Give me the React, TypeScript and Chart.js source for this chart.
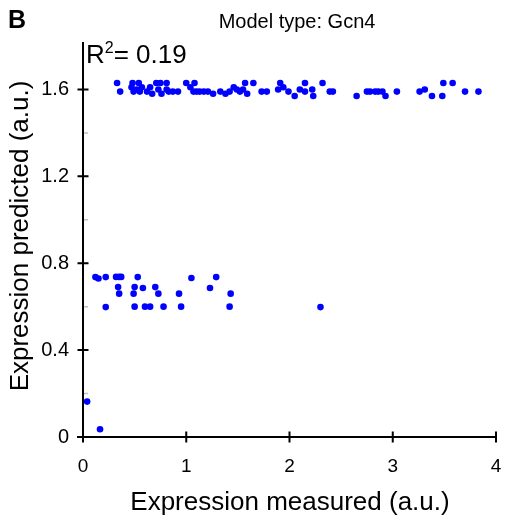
import React, { useEffect, useRef } from "react";
import { Chart, registerables } from "chart.js";

Chart.register(...registerables);

const upperX = [0.33,0.36,0.48,0.54,0.47,0.49,0.52,0.55,0.57,0.62,0.65,0.67,0.71,0.75,0.73,0.76,0.81,0.81,0.83,0.87,0.92,1.00,1.08,1.04,1.07,1.10,1.13,1.17,1.21,1.26,1.33,1.38,1.42,1.46,1.49,1.52,1.57,1.65,1.55,1.59,1.73,1.78,1.91,1.94,1.89,1.99,2.05,2.10,2.15,2.15,2.22,2.23,2.32,2.39,2.42,2.65,2.75,2.78,2.83,2.86,2.90,2.93,3.04,3.26,3.31,3.38,3.49,3.48,3.58,3.70,3.83];
const upperY = [1.63,1.59,1.63,1.63,1.61,1.59,1.60,1.59,1.61,1.59,1.61,1.58,1.63,1.63,1.60,1.58,1.63,1.60,1.59,1.59,1.59,1.63,1.63,1.61,1.59,1.59,1.59,1.59,1.59,1.58,1.59,1.58,1.59,1.61,1.60,1.59,1.63,1.63,1.60,1.58,1.59,1.59,1.63,1.61,1.60,1.59,1.57,1.60,1.63,1.59,1.60,1.57,1.63,1.59,1.59,1.57,1.59,1.59,1.59,1.59,1.59,1.57,1.59,1.59,1.60,1.57,1.63,1.57,1.63,1.59,1.59];

const lowerX = [0.12,0.15,0.22,0.32,0.35,0.37,0.53,1.05,1.29,0.34,0.35,0.50,0.49,0.58,0.70,0.73,0.93,1.23,1.43,0.22,0.50,0.60,0.65,0.78,0.95,1.42,2.30,0.04,0.165];
const lowerY = [0.736,0.73,0.736,0.737,0.737,0.737,0.736,0.732,0.736,0.69,0.66,0.69,0.66,0.686,0.69,0.66,0.66,0.686,0.66,0.598,0.60,0.60,0.60,0.60,0.60,0.60,0.598,0.163,0.036];

const xTicks = [0, 1, 2, 3, 4];
const yTicks = [0, 0.4, 0.8, 1.2, 1.6];
const yMinorTicks = [0.2, 0.6, 1.0, 1.4];

const FONT = "'Liberation Sans', Arial, Helvetica, sans-serif";

export default function App() {
  const ref = useRef<HTMLCanvasElement>(null);
  useEffect(() => {
    document.body.style.margin = "0";
    const canvas = ref.current!;
    const points = [
      ...upperX.map((x, i) => ({ x, y: upperY[i] })),
      ...lowerX.map((x, i) => ({ x, y: lowerY[i] })),
    ];
    const decor = {
      id: "decor",
      afterDraw(chart: any) {
        const ctx = chart.ctx;
        const xs = chart.scales.x;
        const ys = chart.scales.y;
        const ca = chart.chartArea;
        ctx.save();
        ctx.strokeStyle = "#000";
        ctx.lineWidth = 2;
        ctx.beginPath();
        ctx.moveTo(ca.left, ca.bottom + 1);
        ctx.lineTo(ca.left, ca.top - 4);
        ctx.moveTo(ca.left - 6, ca.bottom);
        ctx.lineTo(ca.right, ca.bottom);
        xTicks.forEach((v) => {
          const px = xs.getPixelForValue(v);
          ctx.moveTo(px, ca.bottom - 5.5);
          ctx.lineTo(px, ca.bottom + 5.5);
        });
        yTicks.forEach((v) => {
          const py = ys.getPixelForValue(v);
          ctx.moveTo(ca.left - 5.5, py);
          ctx.lineTo(ca.left + 5.5, py);
        });
        ctx.stroke();
        ctx.strokeStyle = "#c0c0c0";
        ctx.lineWidth = 1.5;
        ctx.beginPath();
        yMinorTicks.forEach((v) => {
          const py = ys.getPixelForValue(v);
          ctx.moveTo(ca.left + 1, py);
          ctx.lineTo(ca.left + 5, py);
        });
        ctx.stroke();

        ctx.fillStyle = "#000";
        ctx.textBaseline = "alphabetic";
        ctx.textAlign = "left";
        ctx.font = `bold 25px ${FONT}`;
        ctx.fillText("B", 8, 28);
        ctx.font = `20px ${FONT}`;
        ctx.textAlign = "center";
        ctx.fillText("Model type: Gcn4", 297, 28);
        ctx.textAlign = "left";
        ctx.font = `26px ${FONT}`;
        ctx.fillText("R", 86, 63);
        const rw = ctx.measureText("R").width;
        ctx.font = `16px ${FONT}`;
        ctx.fillText("2", 86 + rw, 53);
        const sw = ctx.measureText("2").width;
        ctx.font = `26px ${FONT}`;
        ctx.fillText("= 0.19", 86 + rw + sw, 63);

        ctx.textAlign = "center";
        ctx.fillText("Expression measured (a.u.)", 290, 510);
        ctx.translate(28, 236);
        ctx.rotate(-Math.PI / 2);
        ctx.fillText("Expression predicted (a.u.)", 0, 0);
        ctx.restore();
      },
    };
    const chart = new Chart(canvas, {
      type: "scatter",
      data: {
        datasets: [
          {
            data: points,
            backgroundColor: "#0000ff",
            borderColor: "#0000ff",
            pointRadius: 3.3,
            borderWidth: 0,
          },
        ],
      },
      options: {
        responsive: false,
        animation: false,
        clip: false as any,
        layout: { padding: { top: 46, left: 0, right: 10, bottom: 0 } },
        plugins: { legend: { display: false }, tooltip: { enabled: false }, title: { display: false } },
        scales: {
          x: {
            type: "linear",
            min: 0,
            max: 4,
            border: { display: false },
            grid: { display: false, drawTicks: false },
            afterBuildTicks: (s: any) => {
              s.ticks = xTicks.map((v) => ({ value: v }));
            },
            afterFit: (s: any) => {
              s.height = 84;
              s.paddingLeft = 0;
              s.paddingRight = 0;
            },
            ticks: {
              color: "#000",
              font: { family: FONT, size: 19 },
              padding: 18,
              maxRotation: 0,
              callback: (v: any) => String(v),
            },
          },
          y: {
            type: "linear",
            min: 0,
            max: 1.8,
            border: { display: false },
            grid: { display: false, drawTicks: false },
            afterBuildTicks: (s: any) => {
              s.ticks = yTicks.map((v) => ({ value: v }));
            },
            afterFit: (s: any) => {
              s.width = 83;
              s.paddingTop = 0;
              s.paddingBottom = 0;
            },
            ticks: {
              color: "#000",
              font: { family: FONT, size: 20 },
              padding: 14,
              callback: (v: any) => (v === 0 ? "0" : Number(v).toFixed(1)),
            },
          },
        },
      },
      plugins: [decor],
    });
    return () => chart.destroy();
  }, []);
  return (
    <div style={{ width: 506, height: 521 }}>
      <canvas ref={ref} width={506} height={521} />
    </div>
  );
}
